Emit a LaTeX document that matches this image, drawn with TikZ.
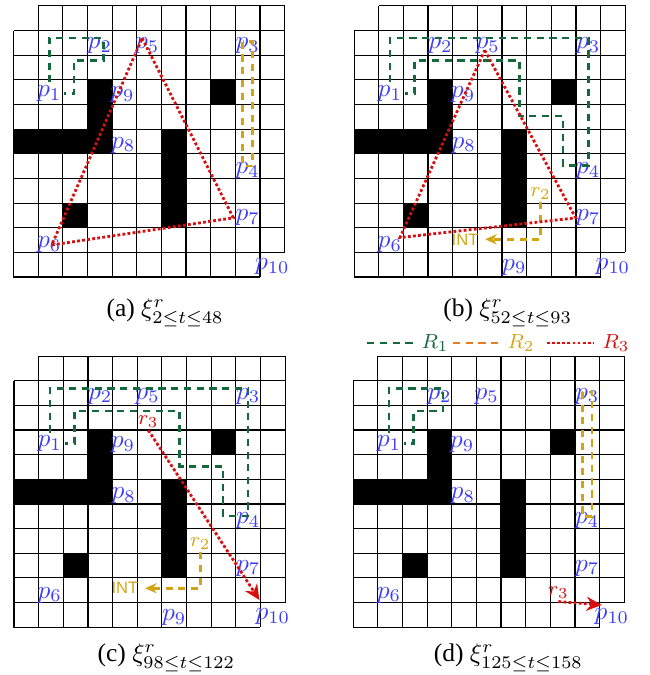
\documentclass[tikz,border=0pt]{standalone}
\usepackage[no-math]{fontspec}
\setmainfont{Liberation Serif}
\setsansfont{Liberation Sans}
\usetikzlibrary{arrows.meta}

\definecolor{pathgreen}{RGB}{20,105,60}
\definecolor{pathgold}{RGB}{210,165,20}
\definecolor{pathorange}{RGB}{230,125,35}
\definecolor{pathred}{RGB}{215,15,15}
\definecolor{ptblue}{RGB}{60,60,250}

\begin{document}
\begin{tikzpicture}[x=0.34cm, y=0.34cm, >={Stealth[length=4.5pt,width=4pt]},
    cell/.style={draw=black, line width=0.45pt},
    pt/.style={text=ptblue, font=\normalsize, inner sep=1pt},
    rone/.style={draw=pathgreen, line width=1pt, dash pattern=on 2.8pt off 2.2pt},
    rtwo/.style={draw=pathgold, line width=1pt, dash pattern=on 2.8pt off 2.2pt},
    rthree/.style={draw=pathred, fill=pathred, line width=1.1pt, dash pattern=on 1.1pt off 0.9pt},
    rlabel/.style={font=\footnotesize, inner sep=1pt},
    inttext/.style={font=\sffamily\fontsize{6.5}{7}\selectfont, text=pathgold, inner sep=2.5pt}]

    \useasboundingbox (0,0) rectangle (26.34,-27.39);

    %%% Grid world, the same in all four panels
    \foreach \n/\px/\py in {a/0.55/-0.24, b/14.37/-0.24, c/0.57/-14.45, d/14.33/-14.45} {
        \begin{scope}[shift={(\px,\py)}]
            % obstacles
            \fill (3,-3) rectangle (4,-5);
            \fill (0,-5) rectangle (4,-6);
            \fill (6,-5) rectangle (7,-9);
            \fill (8,-3) rectangle (9,-4);
            \fill (2,-8) rectangle (3,-9);
            % cells
            \foreach \i in {1,...,10} {
                \draw[cell] (\i,0) -- (\i,-11);
                \draw[cell] (0,-\i) -- (11,-\i);
            }
            \draw[cell] (1,0) -- (11,0) -- (11,-10);
            \draw[cell] (0,-1) -- (0,-11) -- (10,-11);
            % points
            \node[pt] (\n-p1) at (1.45,-3.55) {$p_1$};
            \node[pt] (\n-p2) at (3.5,-1.62) {$p_2$};
            \node[pt] (\n-p5) at (5.42,-1.62) {$p_5$};
            \node[pt] (\n-p3) at (9.5,-1.62) {$p_3$};
            \node[pt] (\n-p9) at (4.42,-3.6) {$p_9$};
            \node[pt] (\n-p8) at (4.45,-5.65) {$p_8$};
            \node[pt] (\n-p4) at (9.5,-6.68) {$p_4$};
            \node[pt] (\n-p7) at (9.5,-8.6) {$p_7$};
            \node[pt] (\n-p6) at (1.45,-9.7) {$p_6$};
            \node[pt] (\n-p10) at (10.5,-10.57) {$p_{10}$};
        \end{scope}
    }

    %%% (a)
    \begin{scope}[shift={(0.55,-0.24)}]
        \draw[rone] (a-p1.north) |- (3.65,-1.31) |- (2.46,-2.22) |- (a-p1.east);
        \draw[rtwo] (9.3,-1.45) rectangle (9.69,-6.5);
        \draw[rthree, fill=none] (5.22,-1.31) -- (8.92,-8.6) -- (1.55,-9.7) -- cycle;
    \end{scope}

    %%% (b)
    \begin{scope}[shift={(14.37,-0.24)}]
        \node[pt] (b-p9b) at (6.5,-10.6) {$p_9$};
        \draw[rone] (b-p1.north) |- (9.5,-1.31) |- (8.47,-6.48) |- (6.72,-4.47) |- (2.46,-2.22) |- (b-p1.east);
        \node[rlabel, text=pathgold] (b-r2) at (7.56,-7.6) {$r_2$};
        \node[inttext] (b-int) at (4.5,-9.47) {INT};
        \draw[rtwo, ->] (b-r2.south) |- (b-int.east);
        \draw[rthree, fill=none] (5.3,-1.8) -- (8.99,-8.6) -- (1.86,-9.4) -- cycle;
    \end{scope}

    %%% (c)
    \begin{scope}[shift={(0.57,-14.45)}]
        \node[pt] (c-p9b) at (6.5,-10.6) {$p_9$};
        \draw[rone] (c-p1.north) |- (9.5,-1.31) |- (8.47,-6.48) |- (6.72,-4.47) |- (2.46,-2.22) |- (c-p1.east);
        \node[rlabel, text=pathgold] (c-r2) at (7.56,-7.6) {$r_2$};
        \node[inttext] (c-int) at (4.5,-9.42) {INT};
        \draw[rtwo, ->] (c-r2.south) |- (c-int.east);
        \node[rlabel, text=pathred] (c-r3) at (5.45,-2.65) {$r_3$};
        \coordinate (c-goal) at (9.96,-9.9);
        \draw[rthree, -{Stealth[length=6pt,width=5.5pt]}] (c-r3.south) -- (c-goal);
    \end{scope}

    %%% (d)
    \begin{scope}[shift={(14.33,-14.45)}]
        \draw[rone] (d-p1.north) |- (3.65,-1.31) |- (2.46,-2.22) |- (d-p1.east);
        \draw[rtwo] (9.3,-1.45) rectangle (9.69,-6.5);
        \node[rlabel, text=pathred] (d-r3) at (8.33,-9.6) {$r_3$};
        \coordinate (d-goal) at (10.09,-10.1);
        \draw[rthree, -{Stealth[length=6pt,width=5.5pt]}] (d-r3.south) -- (d-goal);
    \end{scope}

    %%% Legend
    \node[rlabel, text=pathgreen] (leg-r1) at (17.65,-13.92) {$R_1$};
    \node[rlabel, text=pathgold] (leg-r2) at (21.14,-13.92) {$R_2$};
    \node[rlabel, text=pathred] (leg-r3) at (25.0,-13.92) {$R_3$};
    \draw[rone] (14.9,-13.92) -- (16.96,-13.92);
    \draw[rtwo, draw=pathorange] (18.38,-13.92) -- (20.41,-13.92);
    \draw[rthree] (22.2,-13.92) -- (24.07,-13.92);

    %%% Captions
    \node (cap-a) at (6.7,-12.7) {(a) $\xi^r_{2\leq t\leq 48}$};
    \node (cap-b) at (20.6,-12.7) {(b) $\xi^r_{52\leq t\leq 93}$};
    \node (cap-c) at (6.75,-26.7) {(c) $\xi^r_{98\leq t\leq 122}$};
    \node (cap-d) at (20.63,-26.7) {(d) $\xi^r_{125\leq t\leq 158}$};

\end{tikzpicture}
\end{document}
